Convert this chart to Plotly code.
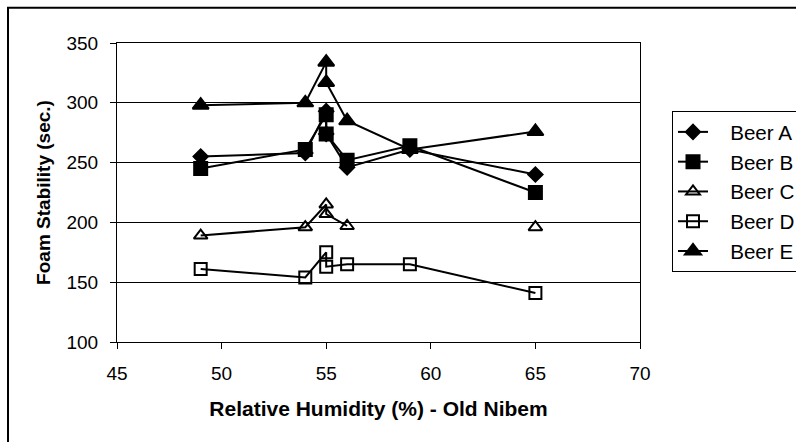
import plotly.graph_objects as go

humidity = [49, 54, 55, 55, 56, 59, 65]
beer_a = [255, 258, 293, 274, 246, 261, 240]
beer_b = [245, 261, 290, 274, 252, 264, 225]
beer_c = [189, 196, 215, 207, 197, None, 196]
beer_d = [161, 154, 175, 163, 165, 165, 141]
beer_e = [298, 300, 334, 317, 285, 261, 276]

x_ticks = [45, 50, 55, 60, 65, 70]
y_ticks = [100, 150, 200, 250, 300, 350]

series = [
    ("Beer A", beer_a, "diamond", 11),
    ("Beer B", beer_b, "square", 13),
    ("Beer C", beer_c, "triangle-up-open", 12),
    ("Beer D", beer_d, "square-open", 12),
    ("Beer E", beer_e, "triangle-up", 14),
]

FONT = "Liberation Sans, Arial, sans-serif"
PAD = "\u00a0\u00a0\u00a0"

fig = go.Figure()
for name, vals, sym, sz in series:
    fig.add_trace(go.Scatter(
        x=humidity, y=vals, name=PAD + name, mode="lines+markers",
        connectgaps=False,
        line=dict(color="black", width=2),
        marker=dict(symbol=sym, size=sz, color="black",
                    line=dict(color="black", width=2)),
    ))

fig.update_layout(
    width=796, height=442,
    margin=dict(l=117, r=156, t=43, b=100, autoexpand=False),
    paper_bgcolor="white", plot_bgcolor="white",
    font=dict(family=FONT, size=19, color="black"),
    showlegend=True,
    legend=dict(
        xref="container", yref="container",
        x=672.0 / 796, y=1 - 111.0 / 442, xanchor="left", yanchor="top",
        bordercolor="black", borderwidth=1, bgcolor="white",
        font=dict(family=FONT, size=20.6, color="black"),
        tracegroupgap=0,
    ),
    xaxis=dict(
        range=[45, 70], tickvals=x_ticks, ticktext=[str(v) for v in x_ticks],
        showgrid=False, zeroline=False, automargin=False,
        showline=True, linecolor="black", linewidth=1, mirror=True,
        ticks="outside", ticklen=6, tickcolor="black", tickwidth=1,
        ticklabelstandoff=8,
        title=dict(text="<b>Relative Humidity (%) - Old Nibem</b>",
                   font=dict(family=FONT, size=21), standoff=18),
    ),
    yaxis=dict(
        range=[100, 350], tickvals=y_ticks, ticktext=[str(v) for v in y_ticks],
        showgrid=True, gridcolor="black", gridwidth=1, zeroline=False,
        automargin=False,
        showline=True, linecolor="black", linewidth=1, mirror=True,
        ticks="outside", ticklen=6, tickcolor="black", tickwidth=1,
        ticklabelstandoff=8,
        title=dict(text="<b>Foam Stability (sec.)</b>",
                   font=dict(family=FONT, size=19), standoff=10),
    ),
)

fig.add_shape(type="rect", xref="paper", yref="paper",
              x0=-0.2084, x1=1.8, y0=-0.6, y1=1.118,
              line=dict(color="black", width=2), fillcolor="rgba(0,0,0,0)",
              layer="below")

fig.write_html("out.html")
